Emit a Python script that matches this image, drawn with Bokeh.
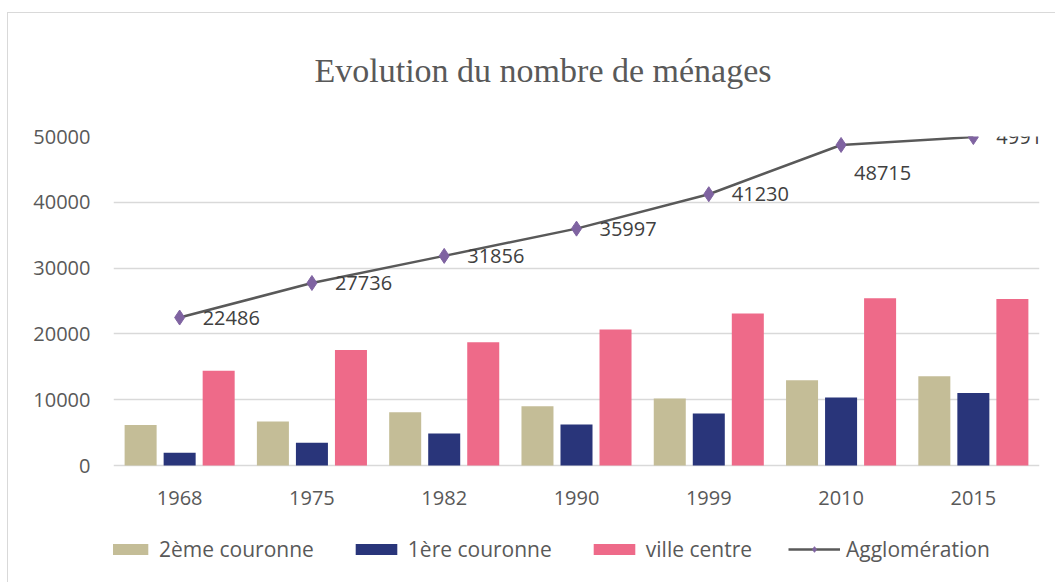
from bokeh.plotting import figure
from bokeh.models import ColumnDataSource, FactorRange, Range1d, Legend, LegendItem, LabelSet
from bokeh.transform import dodge
from bokeh.core.properties import value
from bokeh.embed import file_html
from bokeh.resources import INLINE

years = ["1968", "1975", "1982", "1990", "1999", "2010", "2015"]
deuxieme_couronne = [6150, 6700, 8100, 9000, 10200, 12950, 13550]
premiere_couronne = [1950, 3450, 4850, 6250, 7900, 10330, 11000]
ville_centre = [14390, 17550, 18750, 20650, 23100, 25430, 25300]
agglomeration = [22486, 27736, 31856, 35997, 41230, 48715, 49915]
series_names = ["2ème couronne", "1ère couronne", "ville centre", "Agglomération"]
title_text = "Evolution du nombre de ménages"

FONT = "Open Sans"
TXT = "#595959"

src = ColumnDataSource(dict(
    years=years, d=deuxieme_couronne, p1=premiere_couronne, v=ville_centre,
    a=agglomeration, lab=[str(x) for x in agglomeration],
    zero=[0] * len(years),
    xo=[23 if y != "2010" else 13 for y in years],
    yo=[0 if y != "2010" else -28 for y in years],
))

# frame: y = 50000 at top, y = 0 at 329 px lower; extra 110 px below for labels/legend
Y_MAX = 50000
Y_MIN = -Y_MAX * 110 / 329
p = figure(x_range=FactorRange(*years), y_range=Range1d(Y_MIN, Y_MAX),
           frame_width=926, frame_height=439, output_backend="svg",
           toolbar_location=None,
           min_border_left=113, min_border_right=16, min_border_top=136,
           min_border_bottom=7)
p.border_fill_color = None
p.styles = {
    "background": "linear-gradient(#d9d9d9,#d9d9d9) 7px 12px / 1px 100% no-repeat, "
                  "linear-gradient(#d9d9d9,#d9d9d9) 7px 12px / 100% 1px no-repeat, white",
}

p.title.text = title_text
p.title.align = "left"
p.title.offset = 201
p.title.text_font = "Liberation Serif"
p.title.text_font_size = "34px"
p.title.text_font_style = "normal"
p.title.text_color = TXT
p.title.standoff = 96

w = 0.242
r1 = p.vbar(x=dodge("years", -0.295, range=p.x_range), top="d", width=w, source=src,
            color="#C4BD97", line_color=None)
r2 = p.vbar(x=dodge("years", 0.0, range=p.x_range), top="p1", width=w, source=src,
            color="#29357A", line_color=None)
r3 = p.vbar(x=dodge("years", 0.295, range=p.x_range), top="v", width=w, source=src,
            color="#EE6A89", line_color=None)
r4 = p.line(x="years", y="a", source=src, line_color="#595959", line_width=2.5)
r5 = p.scatter(x="years", y="a", source=src, marker="diamond", size=15,
               color="#7F63A1", line_color="#7F63A1")
p.add_layout(LabelSet(x="years", y="a", text="lab", source=src, x_offset="xo",
                      y_offset="yo", text_align="left", text_baseline="middle",
                      text_font=value(FONT), text_font_size="20px",
                      text_color="#404040"))

# category labels under the zero line
p.text(x="years", y="zero", text="years", source=src, y_offset=32,
       text_align="center", text_baseline="middle", text_font=value(FONT),
       text_font_size="20px", text_color=TXT)

p.xaxis.visible = False
p.xgrid.grid_line_color = None
p.ygrid.grid_line_color = "#D9D9D9"
p.ygrid.grid_line_width = 1.5
p.yaxis.ticker = [0, 10000, 20000, 30000, 40000, 50000]
p.yaxis.axis_line_color = None
p.yaxis.major_tick_line_color = None
p.yaxis.minor_tick_line_color = None
p.yaxis.major_label_standoff = 17
p.yaxis.major_label_text_font = FONT
p.yaxis.major_label_text_font_size = "20px"
p.yaxis.major_label_text_color = TXT
p.outline_line_color = None

legend = Legend(items=[
    LegendItem(label=series_names[0], renderers=[r1]),
    LegendItem(label=series_names[1], renderers=[r2]),
    LegendItem(label=series_names[2], renderers=[r3]),
    LegendItem(label=series_names[3], renderers=[r4, r5]),
], orientation="horizontal", location=(-12, 12), glyph_width=52, glyph_height=14,
    spacing=36, label_standoff=6, label_text_font=FONT, label_text_font_size="21px",
    label_text_color=TXT, border_line_color=None, background_fill_alpha=0,
    padding=0, margin=0)
p.add_layout(legend, "center")

open("out.html", "w").write(file_html(p, INLINE))
